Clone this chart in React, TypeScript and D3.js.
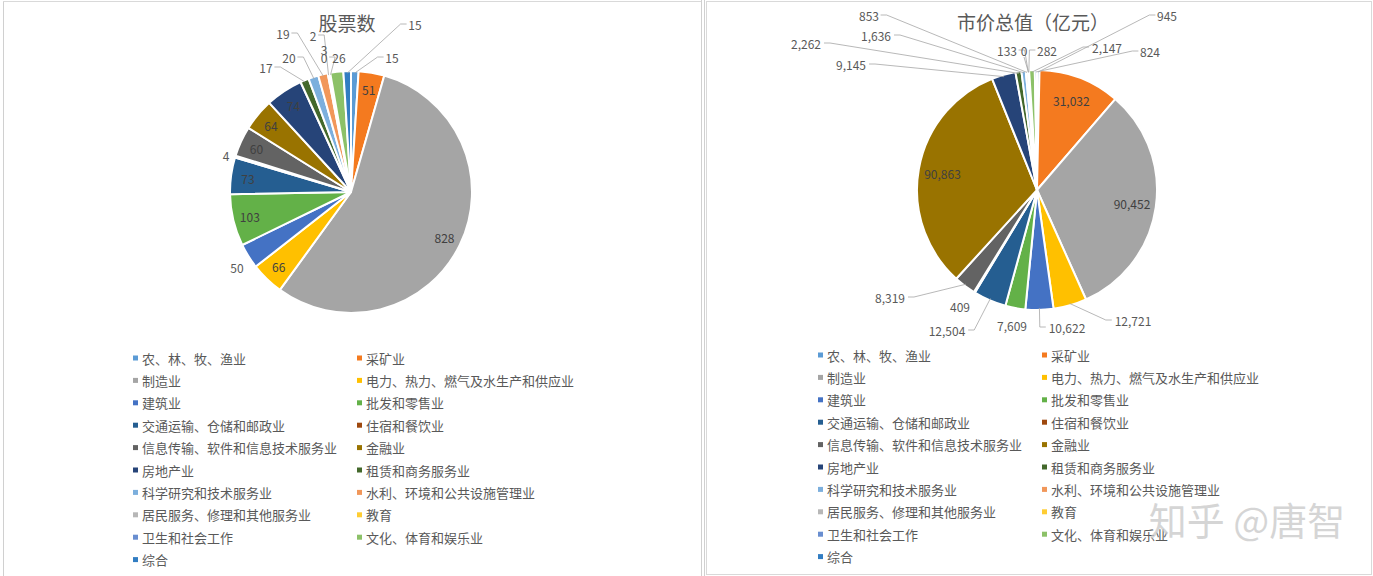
import React from "react";
import * as d3 from "d3";

// 行业分类
const industries = [
	"农、林、牧、渔业",
	"采矿业",
	"制造业",
	"电力、热力、燃气及水生产和供应业",
	"建筑业",
	"批发和零售业",
	"交通运输、仓储和邮政业",
	"住宿和餐饮业",
	"信息传输、软件和信息技术服务业",
	"金融业",
	"房地产业",
	"租赁和商务服务业",
	"科学研究和技术服务业",
	"水利、环境和公共设施管理业",
	"居民服务、修理和其他服务业",
	"教育",
	"卫生和社会工作",
	"文化、体育和娱乐业",
	"综合",
];

// 股票数
const stockCounts = [15, 51, 828, 66, 50, 103, 73, 4, 60, 64, 74, 17, 20, 19, 2, 3, 0, 26, 15];
// 市价总值（亿元）
const marketValues = [945, 31032, 90452, 12721, 10622, 7609, 12504, 409, 8319, 90863, 9145, 2262, 1636, 853, 133, 0, 282, 2147, 824];

const colors = [
	"#5B9BD5", "#F47A1F", "#A5A5A5", "#FFC000", "#4472C4", "#63B148",
	"#255E91", "#9E480E", "#636363", "#997300", "#264478", "#43682B",
	"#7CAFDD", "#F1975A", "#B7B7B7", "#FFCD33", "#698ED0", "#8CC168",
	"#327DC2",
];

const FONT = "'Noto Sans CJK SC', 'Noto Sans', sans-serif";

type OutLabel = { x: number; y: number; line: boolean };

// 外部标签的位置（布局，不是数据）
const leftOutside: { [i: number]: OutLabel } = {
	4: { x: 237, y: 267, line: false },
	7: { x: 226, y: 155, line: false },
	11: { x: 266, y: 67, line: true },
	12: { x: 289, y: 57, line: true },
	13: { x: 283, y: 33, line: true },
	14: { x: 313, y: 35, line: true },
	15: { x: 324, y: 49, line: false },
	16: { x: 324, y: 57, line: true },
	17: { x: 339, y: 57, line: false },
	0: { x: 392, y: 57, line: true },
	18: { x: 415, y: 24, line: true },
};

const rightOutside: { [i: number]: OutLabel } = {
	13: { x: 869, y: 15, line: true },
	12: { x: 876, y: 35, line: true },
	11: { x: 806, y: 43, line: true },
	10: { x: 851, y: 64, line: true },
	14: { x: 1007, y: 50, line: true },
	15: { x: 1024, y: 50, line: true },
	16: { x: 1047, y: 50, line: true },
	0: { x: 1167, y: 15, line: true },
	17: { x: 1107, y: 47, line: true },
	18: { x: 1150, y: 51, line: true },
	8: { x: 890, y: 297, line: true },
	7: { x: 960, y: 306, line: false },
	6: { x: 947, y: 330, line: true },
	5: { x: 1012, y: 325, line: false },
	4: { x: 1067, y: 327, line: true },
	3: { x: 1133, y: 320, line: true },
};

function PieChart({
	values, cx, cy, r, title, titleY, outside, insideR, fmt,
}: {
	values: number[]; cx: number; cy: number; r: number; title: string; titleY: number;
	outside: { [i: number]: OutLabel }; insideR: number; fmt: (v: number) => string;
}) {
	const pie = d3.pie<number>().sort(null).value((d) => d);
	const arcs = pie(values);
	const arc = d3.arc<d3.PieArcDatum<number>>().innerRadius(0).outerRadius(r);
	const labelArc = d3.arc<d3.PieArcDatum<number>>().innerRadius(r * insideR).outerRadius(r * insideR);
	const edgeArc = d3.arc<d3.PieArcDatum<number>>().innerRadius(r - 2).outerRadius(r - 2);

	return (
		<g>
			<text x={cx - 4} y={titleY} textAnchor="middle" dominantBaseline="central" fontSize={19} fill="#595959" fontFamily={FONT}>
				{title}
			</text>
			<g transform={`translate(${cx},${cy})`}>
				{arcs.map((a, i) => (
					<path key={i} d={arc(a) || ""} fill={colors[i]} stroke="#fff" strokeWidth={2} strokeLinejoin="round" />
				))}
			</g>
			{arcs.map((a, i) => {
				const text = fmt(values[i]);
				const o = outside[i];
				if (!o) {
					const [lx, ly] = labelArc.centroid(a);
					return (
						<text key={i} x={cx + lx} y={cy + ly} textAnchor="middle" dominantBaseline="central" fontSize={12} fill="#404040" fontFamily={FONT}>
							{text}
						</text>
					);
				}
				const [ex, ey] = edgeArc.centroid(a);
				const px = cx + ex;
				const py = cy + ey;
				const w = text.length * 6.4;
				let pts: [number, number][] = [];
				if (o.line) {
					if (Math.abs(px - o.x) < w / 2 + 2) {
						// 垂直引线
						pts = [[o.x, o.y + 7], [px, py]];
						if (o.y > cy) pts = [[o.x - w / 2 - 2, o.y], [px - 0.5 < o.x - w / 2 ? px : o.x - w / 2 - 5, o.y], [px, py]];
					} else if (px > o.x) {
						const sx = o.x + w / 2 + 2;
						pts = [[sx, o.y], [sx + 6, o.y], [px, py]];
					} else {
						const sx = o.x - w / 2 - 2;
						pts = [[sx, o.y], [sx - 6, o.y], [px, py]];
					}
				}
				return (
					<g key={i}>
						{o.line && (
							<polyline points={pts.map((p) => p.join(",")).join(" ")} fill="none" stroke="#A6A6A6" strokeWidth={0.8} />
						)}
						<text x={o.x} y={o.y} textAnchor="middle" dominantBaseline="central" fontSize={12} fill="#595959" fontFamily={FONT}>
							{text}
						</text>
					</g>
				);
			})}
		</g>
	);
}

function Legend({ x0, x1, y0 }: { x0: number; x1: number; y0: number }) {
	const step = 22.4;
	return (
		<g fontFamily={FONT} fontSize={13} fill="#595959">
			{industries.map((name, i) => {
				const x = i % 2 === 0 ? x0 : x1;
				const y = y0 + Math.floor(i / 2) * step;
				return (
					<g key={i}>
						<rect x={x} y={y - 2.5} width={5} height={5} fill={colors[i]} />
						<text x={x + 9} y={y} dominantBaseline="central">
							{name}
						</text>
					</g>
				);
			})}
		</g>
	);
}

export default function App() {
	const fmtInt = d3.format("d");
	const fmtComma = d3.format(",");
	return (
		<svg width={1373} height={576} style={{ position: "absolute", left: 0, top: 0, background: "#fff" }}>
			<rect x={0} y={0} width={1373} height={576} fill="#fff" />
			{/* 图表边框 */}
			<line x1={3.5} y1={1.5} x2={3.5} y2={576} stroke="#D0D0D0" />
			<line x1={3} y1={1.5} x2={701} y2={1.5} stroke="#D9D9D9" />
			<line x1={701.5} y1={0} x2={701.5} y2={576} stroke="#D0D0D0" />
			<line x1={704.5} y1={0} x2={704.5} y2={576} stroke="#D0D0D0" />
			<rect x={706.5} y={1.5} width={665} height={573} fill="none" stroke="#D9D9D9" />

			<PieChart values={stockCounts} cx={351} cy={192} r={121} title="股票数" titleY={22} outside={leftOutside} insideR={0.86} fmt={fmtInt} />
			<PieChart values={marketValues} cx={1037} cy={190} r={120} title="市价总值（亿元）" titleY={21} outside={rightOutside} insideR={0.8} fmt={fmtComma} />

			<Legend x0={133} x1={357} y0={358} />
			<Legend x0={818} x1={1042} y0={355} />

			<text x={1247} y={518} textAnchor="middle" dominantBaseline="central" fontSize={38} fill="#C8C8C8" fillOpacity={0.75} fontFamily={FONT}>
				知乎 @唐智
			</text>
		</svg>
	);
}
